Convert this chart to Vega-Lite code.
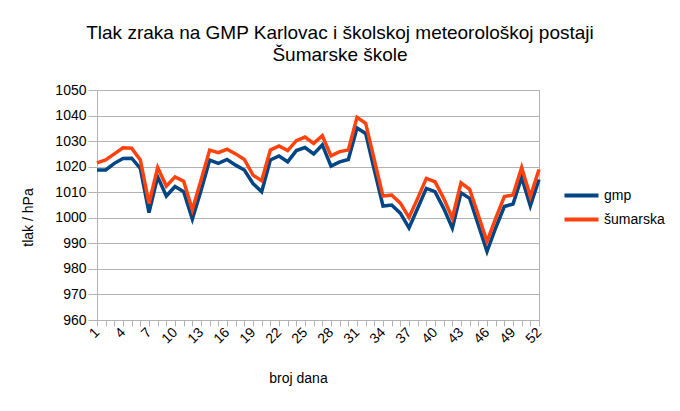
{
  "$schema": "https://vega.github.io/schema/vega-lite/v6.json",
  "width": 442,
  "height": 230,
  "autosize": "none",
  "padding": {"left": 97, "top": 90, "right": 141, "bottom": 91},
  "background": "white",
  "title": {
    "text": ["Tlak zraka na GMP Karlovac i školskoj meteorološkoj postaji", "Šumarske škole"],
    "font": "Liberation Sans",
    "fontSize": 19,
    "fontWeight": "normal",
    "color": "#000000",
    "lineHeight": 22,
    "anchor": "middle",
    "frame": "group",
    "dx": 22,
    "offset": 18
  },
  "config": {
    "view": {"stroke": "#b3b3b3", "strokeWidth": 1},
    "axis": {
      "labelFont": "Liberation Sans",
      "titleFont": "Liberation Sans",
      "labelFontSize": 14,
      "titleFontSize": 14,
      "titleFontWeight": "normal",
      "labelColor": "#000000",
      "titleColor": "#000000",
      "domainColor": "#b3b3b3",
      "tickColor": "#b3b3b3",
      "gridColor": "#b3b3b3"
    },
    "legend": {
      "labelFont": "Liberation Sans",
      "labelFontSize": 14,
      "labelColor": "#000000"
    }
  },
  "data": {
    "values": [
      {"day": 1, "series": "gmp", "value": 1018.7},
      {"day": 2, "series": "gmp", "value": 1018.7},
      {"day": 3, "series": "gmp", "value": 1021.3},
      {"day": 4, "series": "gmp", "value": 1023.2},
      {"day": 5, "series": "gmp", "value": 1023.3},
      {"day": 6, "series": "gmp", "value": 1019.3},
      {"day": 7, "series": "gmp", "value": 1002.0},
      {"day": 8, "series": "gmp", "value": 1016.0},
      {"day": 9, "series": "gmp", "value": 1008.5},
      {"day": 10, "series": "gmp", "value": 1012.2},
      {"day": 11, "series": "gmp", "value": 1010.2},
      {"day": 12, "series": "gmp", "value": 999.5},
      {"day": 13, "series": "gmp", "value": 1010.6},
      {"day": 14, "series": "gmp", "value": 1022.6},
      {"day": 15, "series": "gmp", "value": 1021.3},
      {"day": 16, "series": "gmp", "value": 1022.8},
      {"day": 17, "series": "gmp", "value": 1020.6},
      {"day": 18, "series": "gmp", "value": 1018.7},
      {"day": 19, "series": "gmp", "value": 1013.4},
      {"day": 20, "series": "gmp", "value": 1010.2},
      {"day": 21, "series": "gmp", "value": 1022.6},
      {"day": 22, "series": "gmp", "value": 1024.2},
      {"day": 23, "series": "gmp", "value": 1021.9},
      {"day": 24, "series": "gmp", "value": 1026.3},
      {"day": 25, "series": "gmp", "value": 1027.5},
      {"day": 26, "series": "gmp", "value": 1025.0},
      {"day": 27, "series": "gmp", "value": 1028.5},
      {"day": 28, "series": "gmp", "value": 1020.2},
      {"day": 29, "series": "gmp", "value": 1021.9},
      {"day": 30, "series": "gmp", "value": 1022.8},
      {"day": 31, "series": "gmp", "value": 1035.1},
      {"day": 32, "series": "gmp", "value": 1033.0},
      {"day": 33, "series": "gmp", "value": 1018.7},
      {"day": 34, "series": "gmp", "value": 1004.6},
      {"day": 35, "series": "gmp", "value": 1005.0},
      {"day": 36, "series": "gmp", "value": 1001.8},
      {"day": 37, "series": "gmp", "value": 996.0},
      {"day": 38, "series": "gmp", "value": 1003.7},
      {"day": 39, "series": "gmp", "value": 1011.5},
      {"day": 40, "series": "gmp", "value": 1010.2},
      {"day": 41, "series": "gmp", "value": 1003.7},
      {"day": 42, "series": "gmp", "value": 996.0},
      {"day": 43, "series": "gmp", "value": 1009.8},
      {"day": 44, "series": "gmp", "value": 1007.6},
      {"day": 45, "series": "gmp", "value": 997.2},
      {"day": 46, "series": "gmp", "value": 986.8},
      {"day": 47, "series": "gmp", "value": 996.0},
      {"day": 48, "series": "gmp", "value": 1004.4},
      {"day": 49, "series": "gmp", "value": 1005.4},
      {"day": 50, "series": "gmp", "value": 1015.8},
      {"day": 51, "series": "gmp", "value": 1004.6},
      {"day": 52, "series": "gmp", "value": 1015.0},
      {"day": 1, "series": "šumarska", "value": 1021.5},
      {"day": 2, "series": "šumarska", "value": 1022.6},
      {"day": 3, "series": "šumarska", "value": 1025.0},
      {"day": 4, "series": "šumarska", "value": 1027.4},
      {"day": 5, "series": "šumarska", "value": 1027.2},
      {"day": 6, "series": "šumarska", "value": 1022.6},
      {"day": 7, "series": "šumarska", "value": 1005.6},
      {"day": 8, "series": "šumarska", "value": 1019.7},
      {"day": 9, "series": "šumarska", "value": 1012.4},
      {"day": 10, "series": "šumarska", "value": 1016.0},
      {"day": 11, "series": "šumarska", "value": 1014.3},
      {"day": 12, "series": "šumarska", "value": 1003.1},
      {"day": 13, "series": "šumarska", "value": 1014.7},
      {"day": 14, "series": "šumarska", "value": 1026.5},
      {"day": 15, "series": "šumarska", "value": 1025.5},
      {"day": 16, "series": "šumarska", "value": 1026.8},
      {"day": 17, "series": "šumarska", "value": 1025.0},
      {"day": 18, "series": "šumarska", "value": 1022.8},
      {"day": 19, "series": "šumarska", "value": 1016.7},
      {"day": 20, "series": "šumarska", "value": 1014.5},
      {"day": 21, "series": "šumarska", "value": 1026.5},
      {"day": 22, "series": "šumarska", "value": 1028.1},
      {"day": 23, "series": "šumarska", "value": 1026.3},
      {"day": 24, "series": "šumarska", "value": 1030.2},
      {"day": 25, "series": "šumarska", "value": 1031.6},
      {"day": 26, "series": "šumarska", "value": 1029.1},
      {"day": 27, "series": "šumarska", "value": 1032.1},
      {"day": 28, "series": "šumarska", "value": 1024.2},
      {"day": 29, "series": "šumarska", "value": 1025.9},
      {"day": 30, "series": "šumarska", "value": 1026.5},
      {"day": 31, "series": "šumarska", "value": 1039.3},
      {"day": 32, "series": "šumarska", "value": 1037.0},
      {"day": 33, "series": "šumarska", "value": 1022.6},
      {"day": 34, "series": "šumarska", "value": 1008.5},
      {"day": 35, "series": "šumarska", "value": 1008.9},
      {"day": 36, "series": "šumarska", "value": 1005.7},
      {"day": 37, "series": "šumarska", "value": 1000.1},
      {"day": 38, "series": "šumarska", "value": 1007.6},
      {"day": 39, "series": "šumarska", "value": 1015.4},
      {"day": 40, "series": "šumarska", "value": 1014.1},
      {"day": 41, "series": "šumarska", "value": 1007.6},
      {"day": 42, "series": "šumarska", "value": 999.8},
      {"day": 43, "series": "šumarska", "value": 1013.7},
      {"day": 44, "series": "šumarska", "value": 1011.1},
      {"day": 45, "series": "šumarska", "value": 1001.0},
      {"day": 46, "series": "šumarska", "value": 990.7},
      {"day": 47, "series": "šumarska", "value": 999.8},
      {"day": 48, "series": "šumarska", "value": 1008.3},
      {"day": 49, "series": "šumarska", "value": 1008.9},
      {"day": 50, "series": "šumarska", "value": 1019.7},
      {"day": 51, "series": "šumarska", "value": 1008.3},
      {"day": 52, "series": "šumarska", "value": 1018.9}
    ]
  },
  "mark": {"type": "line", "strokeWidth": 3.5, "strokeJoin": "miter", "clip": false},
  "encoding": {
    "x": {
      "field": "day",
      "type": "quantitative",
      "scale": {"domain": [1, 52], "nice": false, "zero": false},
      "axis": {
        "title": "broj dana",
        "grid": false,
        "values": [1,2,3,4,5,6,7,8,9,10,11,12,13,14,15,16,17,18,19,20,21,22,23,24,25,26,27,28,29,30,31,32,33,34,35,36,37,38,39,40,41,42,43,44,45,46,47,48,49,50,51,52],
        "labelExpr": "(datum.value - 1) % 3 == 0 ? datum.label : ''",
        "labelAngle": -45,
        "labelAlign": "right",
        "labelBaseline": "middle",
        "labelPadding": 4,
        "labelFlush": false,
        "labelOverlap": false,
        "tickSize": 6,
        "titleX": 201,
        "titleY": 51,
        "titleAnchor": "middle",
        "titleBaseline": "top"
      }
    },
    "y": {
      "field": "value",
      "type": "quantitative",
      "scale": {"domain": [960, 1050], "nice": false, "zero": false},
      "axis": {
        "title": "tlak / hPa",
        "format": "d",
        "values": [960, 970, 980, 990, 1000, 1010, 1020, 1030, 1040, 1050],
        "tickSize": 9,
        "labelPadding": 2,
        "titleX": -62,
        "titleY": 127,
        "titleAngle": -90,
        "titleAnchor": "middle",
        "titleBaseline": "bottom"
      }
    },
    "color": {
      "field": "series",
      "type": "nominal",
      "scale": {"domain": ["gmp", "šumarska"], "range": ["#004586", "#ff420e"]},
      "legend": {
        "title": null,
        "orient": "none",
        "legendX": 474,
        "legendY": 95,
        "symbolType": "M-2,0H2",
        "symbolStrokeWidth": 4,
        "symbolSize": 289,
        "rowPadding": 5,
        "labelOffset": 12,
        "padding": 0
      }
    }
  }
}
